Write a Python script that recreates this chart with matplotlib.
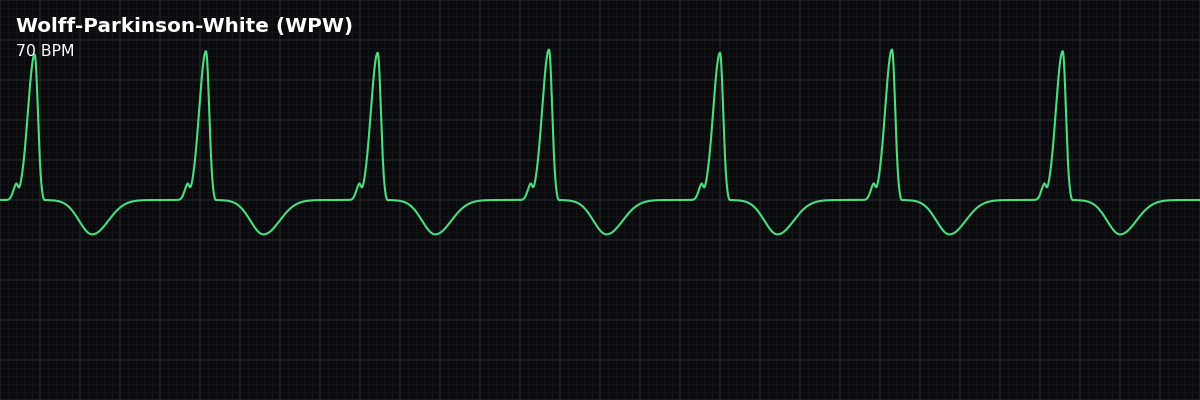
import numpy as np
import matplotlib
matplotlib.use("Agg")
import matplotlib.pyplot as plt

# ---------------------------------------------------
# Data (seconds, mV)
# ---------------------------------------------------
title = "Wolff-Parkinson-White (WPW)"
subtitle = "70 BPM"

duration = 6.0
r_times = [0.1735, 1.030, 1.8885, 2.745, 3.600, 4.460, 5.3135]
r_amps = [1.82, 1.86, 1.84, 1.88, 1.84, 1.88, 1.86]

# wave components relative to the R peak:
# offset (s), amplitude (mV), left width (s), right width (s)
wave_names = ["delta", "R", "S", "T"]
wave_offsets = [-0.093, 0.0, 0.045, 0.2875]
wave_amps = [0.16, None, -0.02, -0.43]
wave_left = [0.015, 0.034, 0.006, 0.065]
wave_right = [0.008, 0.016, 0.006, 0.080]

# ---------------------------------------------------
# Build the trace
# ---------------------------------------------------
def bump(t, center, amp, sl, sr):
    d = t - center
    s = np.where(d < 0, sl, sr)
    return amp * np.exp(-0.5 * (d / s) ** 2)

t = np.arange(0, duration + 0.0005, 0.001)
mv = np.zeros_like(t)
for tr, ra in zip(r_times, r_amps):
    for off, amp, sl, sr in zip(wave_offsets, wave_amps, wave_left, wave_right):
        a = ra if amp is None else amp
        mv += bump(t, tr + off, a, sl, sr)

# ---------------------------------------------------
# Plot
# ---------------------------------------------------
bg = "#0b0b0d"
fig = plt.figure(figsize=(12, 4), dpi=100, facecolor=bg)
ax = fig.add_axes([0, 0, 1, 1])
ax.set_facecolor(bg)

ax.set_xlim(0, duration)
ax.set_ylim(-2.5, 2.5)

# ECG paper grid: 0.2 s / 0.5 mV major, 0.04 s / 0.1 mV minor
ax.set_xticks(np.arange(0, duration + 0.001, 0.2))
ax.set_xticks(np.arange(0, duration + 0.001, 0.04), minor=True)
ax.set_yticks(np.arange(-2.5, 2.51, 0.5))
ax.set_yticks(np.arange(-2.5, 2.51, 0.1), minor=True)
ax.grid(which="minor", color="#141619", linewidth=0.6)
ax.grid(which="major", color="#1f242b", linewidth=1.1)
ax.tick_params(which="both", length=0, labelbottom=False, labelleft=False)
for s in ax.spines.values():
    s.set_visible(False)
ax.set_axisbelow(True)

ax.plot(t, mv, color="#4ade80", linewidth=1.5, solid_joinstyle="round")

fig.text(16 / 1200, 1 - 32 / 400, title, color="white", fontsize=14.4,
         fontweight="bold", ha="left", va="baseline")
fig.text(16 / 1200, 1 - 56 / 400, subtitle, color="white", fontsize=11.3,
         ha="left", va="baseline")

fig.savefig("out.png", dpi=100, facecolor=bg)
plt.close(fig)
